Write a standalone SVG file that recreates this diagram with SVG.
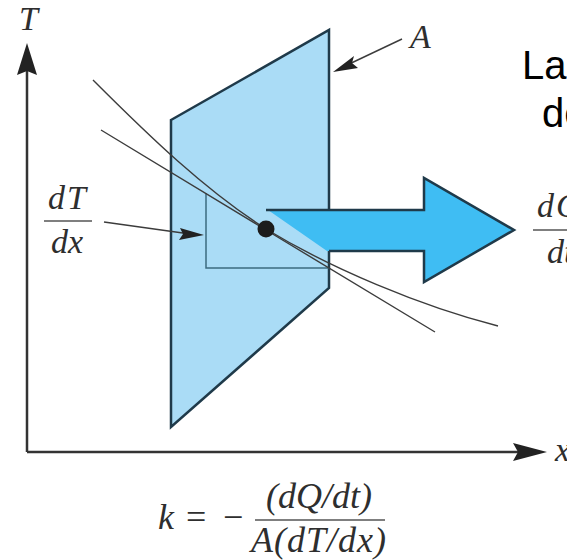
<svg xmlns="http://www.w3.org/2000/svg" width="567" height="560" viewBox="0 0 567 560">
<style>
.m{font-family:"Liberation Serif","Times New Roman",serif;font-style:italic;fill:#2e2e2e;font-size:34px}
.sp{letter-spacing:2px}
.r{font-family:"Liberation Serif","Times New Roman",serif;fill:#2e2e2e;font-size:36px}
.s{font-family:"Liberation Sans",Arial,sans-serif;font-size:40px;fill:#000}
.ax{stroke:#333;stroke-width:2.5;fill:none}
.thin{stroke:#3c3c3c;stroke-width:1.4;fill:none}
.edge{stroke:#1f3a4a;stroke-width:2.5;fill:none;stroke-linejoin:miter}
.head{fill:#222}
.bar{stroke:#555;stroke-width:1.5}
</style>
<rect width="567" height="560" fill="#fff"/>
<g id="panel">
<polygon points="171,120 329,30 329,288 171,427" class="edge" style="fill:#aadcf6"/>
<polyline points="206,193 206,268 329,268" stroke="#3d6b80" stroke-width="1.5" fill="none"/>
</g>
<g id="flow-arrow">
<polygon points="268,210 424,210 424,178 514,230 424,282 424,251 327,251" fill="#3fbdf3"/>
<polyline points="266,210 424,210 424,178 514,230 424,282 424,251 329,251" class="edge"/>
</g>
<g id="connectors">
<path class="ax" d="M27,452V70M27,452H520"/>
<polygon class="head" points="27,43 37,75 27,71 17,75"/>
<polygon class="head" points="547,452 513,443 518,452 513,461"/>
<path class="thin" d="M101,130L266,230L435,332"/>
<path class="thin" d="M93,80C150,137 205,190 266,229C330,268 420,306 498,326"/>
<path class="thin" d="M104,222L190,234"/>
<polygon class="head" points="204,235 180,228 183,234 179,240"/>
<path class="thin" d="M402,39L345,66"/>
<polygon class="head" points="333,72 354,56 352,63 358,68"/>
</g>
<g id="point"><circle cx="266" cy="229" r="8.5" fill="#1c1c1c"/></g>
<g id="label-T"><text class="m" x="19" y="30">T</text></g>
<g id="label-A"><text class="m" x="410" y="48">A</text></g>
<g id="label-x"><text class="m" x="555" y="461">x</text></g>
<g id="label-dTdx">
<text class="m sp" x="48" y="209">dT</text>
<line class="bar" x1="44" y1="221" x2="92" y2="221"/>
<text class="m" x="51" y="253">dx</text>
</g>
<g id="label-dQdt">
<text class="m sp" x="537" y="217">dQ</text>
<line class="bar" x1="533" y1="230" x2="567" y2="230"/>
<text class="m" x="547" y="263">dt</text>
</g>
<g id="caption">
<text class="s" x="522" y="79">La</text>
<text class="s" x="542" y="127">de</text>
</g>
<g id="formula">
<text class="m" x="158" y="529" style="font-size:36px">k</text>
<text class="r" x="186" y="529">=</text>
<text class="r" x="223" y="529">−</text>
<text class="m" x="266" y="508" style="font-size:36px">(dQ/dt)</text>
<line class="bar" x1="255" y1="520" x2="385" y2="520"/>
<text class="m" x="251" y="552" style="font-size:36px;letter-spacing:1px">A(dT/dx)</text>
</g>
</svg>
